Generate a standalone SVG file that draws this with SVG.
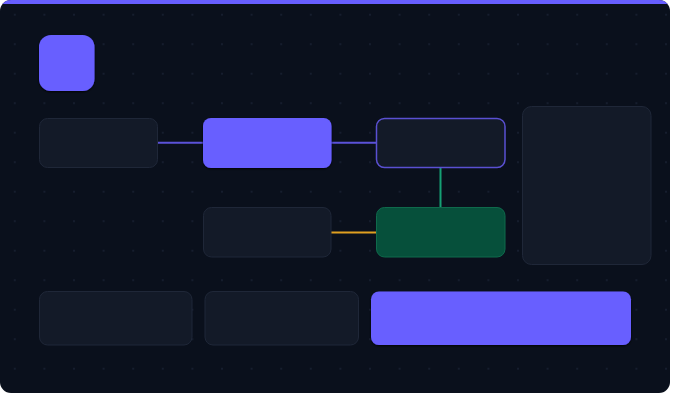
<svg xmlns="http://www.w3.org/2000/svg" width="680" height="404" viewBox="0 0 680 404">
  <defs>
    <pattern id="dots" x="0" y="0" width="29.6" height="29.5" patternUnits="userSpaceOnUse">
      <circle cx="14.8" cy="14.7" r="0.9" fill="#1c2436"/>
    </pattern>
    <clipPath id="card">
      <rect x="0" y="0" width="670" height="393" rx="11"/>
    </clipPath>
    <filter id="sh" x="-20%" y="-20%" width="140%" height="140%">
      <feDropShadow dx="0" dy="1" stdDeviation="1.2" flood-color="#000" flood-opacity="0.9"/>
    </filter>
    <style>
      .dark { fill: #131a28; stroke: #1f2738; stroke-width: 1; }
      .purple { fill: #675eff; filter: url(#sh); }
      .conn { fill: none; stroke-width: 2; }
    </style>
  </defs>
  <rect width="680" height="404" fill="#ffffff"/>
  <g clip-path="url(#card)">
    <rect x="0" y="0" width="670" height="393" fill="#0a101c"/>
    <rect x="0" y="0" width="670" height="393" fill="url(#dots)"/>
    <rect x="0" y="0" width="670" height="4" fill="#675eff"/>
  </g>
  <g id="connectors">
    <line class="conn" x1="158" y1="142.7" x2="203" y2="142.7" stroke="#5b52d8"/>
    <line class="conn" x1="331" y1="142.7" x2="376" y2="142.7" stroke="#5b52d8"/>
    <line class="conn" x1="440.5" y1="168" x2="440.5" y2="207" stroke="#15a074"/>
    <line class="conn" x1="331" y1="232.5" x2="376" y2="232.5" stroke="#e0a020"/>
  </g>
  <g id="icon"><rect class="purple" x="39" y="35" width="55.5" height="56" rx="12"/></g>
  <g id="nodeA"><rect class="dark" x="39.5" y="118.5" width="118" height="49" rx="8"/></g>
  <g id="nodeB"><rect class="purple" x="203" y="118" width="128.5" height="50" rx="8"/></g>
  <g id="nodeC"><rect x="376.5" y="118.5" width="128.5" height="49" rx="8" fill="#131a28" stroke="#5a50d2" stroke-width="1.5"/></g>
  <g id="nodeD"><rect class="dark" x="203.5" y="207.5" width="127.5" height="49.5" rx="8"/></g>
  <g id="nodeE"><rect x="376.5" y="207.5" width="128.5" height="49.5" rx="8" fill="#06503b" stroke="#0f6a4c" stroke-width="1"/></g>
  <g id="panel"><rect class="dark" x="522.5" y="106.5" width="128.5" height="158" rx="9"/></g>
  <g id="nodeF"><rect class="dark" x="39.5" y="291.5" width="152.5" height="53.5" rx="8"/></g>
  <g id="nodeG"><rect class="dark" x="205" y="291.5" width="153.5" height="53.5" rx="8"/></g>
  <g id="nodeH"><rect class="purple" x="371" y="291.5" width="260" height="53.5" rx="8"/></g>
</svg>
